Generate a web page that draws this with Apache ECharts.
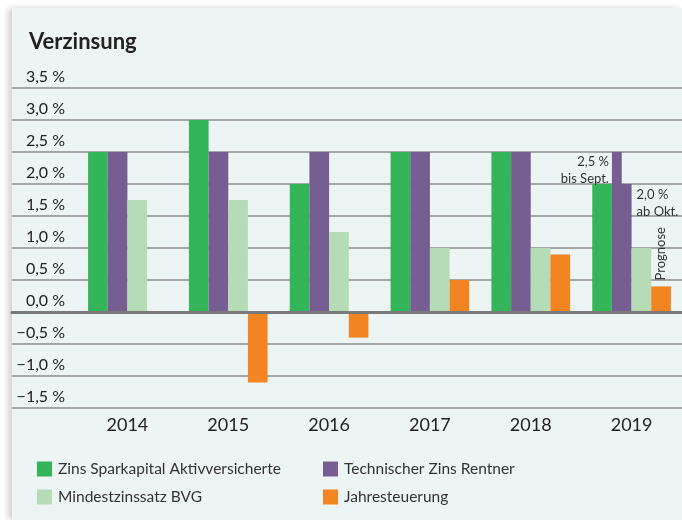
<!DOCTYPE html>
<html>
<head>
<meta charset="utf-8">
<script src="https://cdn.jsdelivr.net/npm/echarts@6/dist/echarts.min.js"></script>
<style>
  html, body { margin: 0; padding: 0; background: #fff; }
  #panel { position: absolute; left: 12px; top: 8px; width: 670px; height: 512px;
           background: #ecf5f3; box-shadow: -4px 0 6px rgba(0,0,0,0.18); }
  #chart { position: absolute; left: 0; top: 0; width: 682px; height: 520px; }
</style>
</head>
<body>
<div id="panel"></div>
<div id="chart"></div>
<script>
// Daten
const years = ['2014', '2015', '2016', '2017', '2018', '2019'];
const zinsSparkapital = [2.5, 3.0, 2.0, 2.5, 2.5, 2.0];
const technischerZins = [2.5, 2.5, 2.5, 2.5, 2.5, 2.0];
const mindestzinsBVG = [1.75, 1.75, 1.25, 1.0, 1.0, 1.0];
const teuerung = [-0.03, -1.1, -0.4, 0.5, 0.9, 0.4];
// 2019: technischer Zins 2,5 % bis Sept., 2,0 % ab Okt. [Index, bis Sept., ab Okt.]
const zinsSplit2019 = [[5, 2.5, 2.0]];

const FONT = 'Lato, "Noto Sans", sans-serif';
const COLORS = { green: '#34b55a', purple: '#765e92', light: '#b5dcb6', orange: '#f28522' };
const GAP = 0.22; // barCategoryGap

const chart = echarts.init(document.getElementById('chart'));

const pct = v => v.toFixed(1).replace('.', ',').replace('-', '\u2212') + ' %';

const legendText = { fontFamily: FONT, fontSize: 15.5, color: '#333', padding: [0, 0, 0, 1] };

const option = {
  textStyle: { fontFamily: FONT },
  title: {
    text: 'Verzinsung', left: 24, top: 26,
    textStyle: { fontFamily: FONT, fontSize: 22, fontWeight: 'bold', color: '#222' }
  },
  legend: [
    {
      left: 32, top: 456, orient: 'vertical', itemGap: 12, icon: 'rect',
      itemWidth: 15, itemHeight: 15, textStyle: legendText,
      data: ['Zins Sparkapital Aktivversicherte', 'Mindestzinssatz BVG']
    },
    {
      left: 318, top: 456, orient: 'vertical', itemGap: 12, icon: 'rect',
      itemWidth: 15, itemHeight: 15, textStyle: legendText,
      data: ['Technischer Zins Rentner', 'Jahresteuerung']
    }
  ],
  grid: [
    { left: 12, right: 0, top: 88, height: 320 },  // Raster + Beschriftung
    { left: 77, right: 0, top: 88, height: 320 }   // Balken
  ],
  xAxis: [
    {
      gridIndex: 0, type: 'category', data: [''], z: 5,
      axisLine: { show: true, onZero: true, lineStyle: { color: '#7a7a7a', width: 3 } },
      axisTick: { show: false }, axisLabel: { show: false }
    },
    {
      gridIndex: 1, type: 'category', data: years,
      axisLine: { show: false }, axisTick: { show: false },
      axisLabel: { margin: 8, fontSize: 18, color: '#222', fontFamily: FONT }
    }
  ],
  yAxis: [
    {
      gridIndex: 0, type: 'value', min: -1.5, max: 3.5, interval: 0.5,
      axisLine: { show: false }, axisTick: { show: false },
      splitLine: { lineStyle: { color: '#8c8c8c', width: 1.5 } },
      axisLabel: {
        inside: true, margin: 53, align: 'right', verticalAlign: 'bottom',
        padding: [0, 0, 3, 0], fontSize: 16, color: '#222', fontFamily: FONT,
        formatter: pct
      }
    },
    {
      gridIndex: 1, type: 'value', min: -1.5, max: 3.5, interval: 0.5, show: false
    }
  ],
  series: [
    {
      name: 'Zins Sparkapital Aktivversicherte', type: 'bar', xAxisIndex: 1, yAxisIndex: 1,
      data: zinsSparkapital, barGap: 0, barCategoryGap: (GAP * 100) + '%',
      itemStyle: { color: COLORS.green }
    },
    {
      name: 'Technischer Zins Rentner', type: 'bar', xAxisIndex: 1, yAxisIndex: 1,
      data: technischerZins, itemStyle: { color: COLORS.purple }
    },
    {
      name: 'Mindestzinssatz BVG', type: 'bar', xAxisIndex: 1, yAxisIndex: 1,
      data: mindestzinsBVG, itemStyle: { color: COLORS.light }
    },
    {
      name: 'Jahresteuerung', type: 'bar', xAxisIndex: 1, yAxisIndex: 1,
      data: teuerung.map((v, i) => i === 5 ? {
        value: v,
        label: {
          show: true, position: 'top', rotate: 90, align: 'left', verticalAlign: 'middle',
          distance: 6, formatter: 'Prognose', fontSize: 13, color: '#333', fontFamily: FONT
        }
      } : v),
      itemStyle: { color: COLORS.orange }
    },
    {
      // 2019: linke Hälfte des violetten Balkens bis 2,5 %
      type: 'custom', xAxisIndex: 1, yAxisIndex: 1, z: 3, silent: true,
      data: zinsSplit2019,
      renderItem: function (params, api) {
        const idx = api.value(0);
        const top = api.coord([idx, api.value(1)]);
        const base = api.coord([idx, api.value(2)]);
        const w = api.size([1, 0])[0] * (1 - GAP) / 4;
        const x0 = top[0] - w;
        const txt = { fontFamily: FONT, fontSize: 13, fill: '#333', lineHeight: 17 };
        return {
          type: 'group',
          children: [
            { type: 'rect', shape: { x: x0, y: top[1], width: w / 2, height: base[1] - top[1] },
              style: { fill: COLORS.purple } },
            { type: 'text', style: Object.assign({ text: pct(api.value(1)) + '\nbis Sept.',
              x: x0 - 3, y: top[1] + 1, align: 'right', verticalAlign: 'top' }, txt) },
            { type: 'text', style: Object.assign({ text: pct(api.value(2)) + '\nab Okt.',
              x: x0 + w + 5, y: base[1] + 2, align: 'left', verticalAlign: 'top' }, txt) }
          ]
        };
      }
    }
  ]
};

chart.setOption(option);
</script>
</body>
</html>
